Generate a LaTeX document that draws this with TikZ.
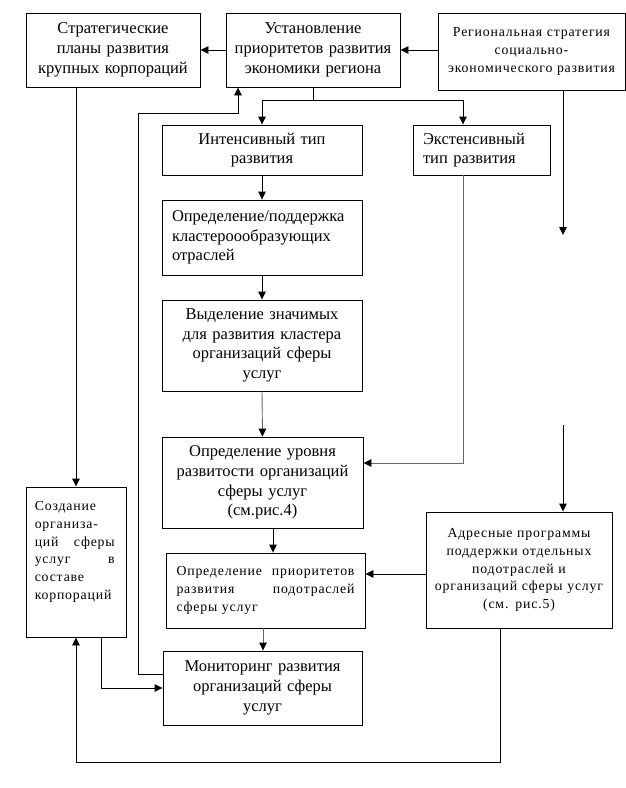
\documentclass[tikz,border=0pt]{standalone}
\usepackage{fontspec}
\setmainfont{Liberation Serif}
\newfontfamily\spacedfont[LetterSpace=6]{Liberation Serif}
\newcommand\fbig{\rmfamily\fontsize{16.5}{19.7}\selectfont}
\newcommand\fsm{\spacedfont\fontsize{13.8}{17.7}\selectfont}
\newcommand\jline[2]{\leavevmode\hbox to #1{#2}}
\usetikzlibrary{arrows.meta}
\begin{document}
\begin{tikzpicture}[x=1pt,y=-1pt,
  box/.style={draw, line width=0.9pt, rectangle, inner xsep=5pt, inner ysep=0pt, font=\fbig, align=center},
  sm/.style={font=\fsm},
  arr/.style={line width=0.9pt, -{Triangle[length=8pt,width=7.5pt,color=black]}},
  ln/.style={line width=0.9pt},
  greyline/.style={draw=black!60}]
\fill[white] (0,0) rectangle (626,788);
\useasboundingbox (0,0) rectangle (626,788);

\node[box, text width=164pt, minimum height=74pt] (A) at (113,50) {Стратегические\\ планы развития\\ крупных корпораций};
\node[box, text width=164pt, minimum height=74pt] (B) at (313,50) {Установление\\ приоритетов развития\\ экономики региона};
\node[box, sm, text width=177pt, minimum height=77pt] (C) at (531.5,51.5) {Региональная стратегия\\ социально-\\ экономического развития};
\node[box, text width=190pt, minimum height=50pt] (D) at (262,150) {Интенсивный тип\\ развития};
\node[box, text width=117pt, inner xsep=10pt, minimum height=50pt, align=left] (E) at (481.5,150) {Экстенсивный\\ тип развития};
\node[box, text width=180pt, inner xsep=10pt, minimum height=75pt, align=left] (F) at (262,237.5) {Определение/поддержка\\ кластероообразующих\\ отраслей};
\node[box, text width=190pt, minimum height=91pt] (G) at (262,345.5) {Выделение значимых\\ для развития кластера\\ организаций сферы\\ услуг};
\node[box, text width=191pt, minimum height=91pt] (H) at (262.5,482.5) {Определение уровня\\ развитости организаций\\ сферы услуг\\ (см.рис.4)};
\node[box, sm, text width=178pt, inner xsep=10.5pt, minimum height=75pt, align=left] (I) at (265.5,590.5) {\jline{178pt}{Определение\hfill приоритетов}\\ \jline{178pt}{развития\hfill подотраслей}\\ сферы услуг};
\node[box, text width=189pt, minimum height=74pt] (J) at (262.5,688) {Мониторинг развития\\ организаций сферы\\ услуг};
\node[box, minimum width=100pt, minimum height=150pt, inner sep=0pt] (K) at (76,562) {};
\node[sm, inner sep=0pt, anchor=north west, text width=80pt, align=left] (Kt) at ([xshift=9pt,yshift=-15pt]K.north west) {Создание\\ организа-\\ \jline{80pt}{ций\hfill сферы}\\ \jline{80pt}{услуг\hfill в}\\ составе\\ корпораций};
\node[box, sm, text width=176pt, minimum height=116pt] (L) at (519,570) {Адресные программы\\ поддержки отдельных\\ подотраслей и\\ организаций сферы услуг\\ (см. рис.5)};

\coordinate (s) at (313,100);
\coordinate (c1) at (563,235);
\coordinate (c2) at (563,425);
\coordinate (l1) at (138,113);
\coordinate (bl) at (76,762);

\draw[arr] (B.west) -- (A.east);
\draw[arr] (C.west |- B.east) -- (B.east);
\draw[ln] (B.south) -- (s);
\draw[arr] (s) -| (D.north);
\draw[arr] (s) -| ([xshift=-18.5pt]E.north);
\draw[arr] (D.south) -- (F.north);
\draw[arr] (F.south) -- (G.north);
\draw[arr, greyline] (G.south) -- (H.north);
\draw[arr] ([xshift=10.5pt]H.south) -- ([xshift=10.5pt]H.south |- I.north);
\draw[arr, greyline] ([xshift=-2.5pt]I.south) -- ([xshift=-2.5pt]I.south |- J.north);
\draw[arr, greyline] ([xshift=-18.5pt]E.south) |- ([yshift=19.5pt]H.east);
\draw[arr] (C.south -| c1) -- (c1);
\draw[arr] (c2) -- (c2 |- L.north);
\draw[arr] ([yshift=-4pt]L.west) -- ([yshift=-4pt]L.west -| I.east);
\draw[arr] (A.south -| K.north) -- (K.north);
\draw[arr] ([yshift=14pt]J.west) -| (l1) -| ([xshift=-75pt]B.south);
\draw[arr] ([xshift=25pt]K.south) |- (J.west);
\draw[arr] ([xshift=-19pt]L.south) |- (bl) -- (K.south);
\end{tikzpicture}
\end{document}
